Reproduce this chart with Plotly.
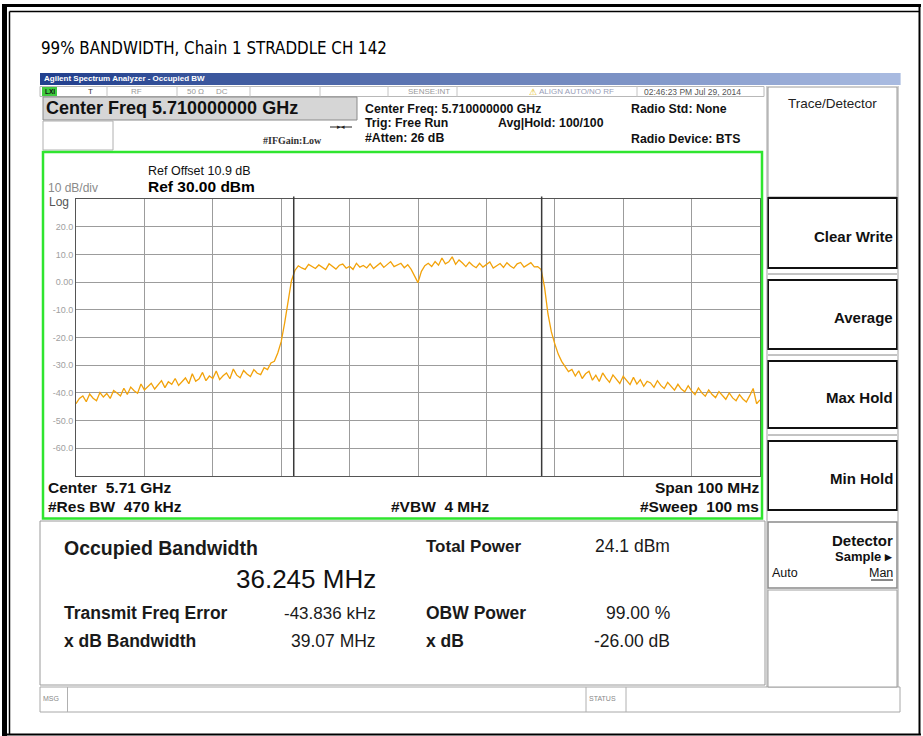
import numpy as np
import plotly.graph_objects as go

W, H = 923, 736

# ---- measurement data -------------------------------------------------------
center_ghz = 5.71
span_mhz = 100.0
ref_level_dbm = 30.0
db_per_div = 10.0
obw_mhz = 36.245
freq_error_khz = -43.836

# sweep points, 0.5 MHz apart across the 100 MHz span
freq_offset_mhz = np.linspace(-span_mhz / 2, span_mhz / 2, 201)

level_lower_dbm = [
    -43.9, -42.0, -41.1, -43.2, -40.4, -41.9, -42.8, -39.9, -41.5, -40.2,
    -42.0, -39.1, -40.0, -41.1, -38.3, -40.6, -37.9, -39.2, -40.1, -36.8,
    -38.9, -37.7, -36.5, -38.6, -37.2, -35.6, -38.1, -36.0, -36.9, -34.8,
    -37.3, -35.9, -34.6, -36.7, -33.1, -35.8, -34.9, -32.6, -35.6, -33.9,
    -34.8, -32.1, -35.2, -33.8, -32.8, -34.9, -31.4, -33.6, -34.5, -31.9,
    -33.2, -34.1, -31.6, -32.9, -33.4, -30.9, -31.6, -29.2, -28.6, -25.6,
    -21.5, -14.8, -6.2, 0.5, 4.2,
]
level_inband_dbm = [
    5.9, 5.1, 4.6, 6.4, 5.6, 4.9, 6.2, 5.3, 4.5, 6.6,
    5.8, 4.7, 6.1, 6.5, 5.0, 5.7, 4.6, 6.8, 5.4, 6.0,
    5.1, 6.6, 4.9, 5.8, 6.9, 5.3, 6.2, 7.4, 5.6, 6.1,
    6.8, 5.2, 6.3, 4.6, 2.2, -0.2, 3.9, 5.9, 6.8, 5.6,
    7.4, 6.1, 8.7, 6.6, 7.3, 9.1, 6.4, 8.0, 6.9, 5.6,
    7.2, 6.0, 5.2, 6.8, 5.4, 6.3, 7.3, 5.1, 6.0, 6.7,
    5.3, 7.0, 5.8, 5.0, 6.6, 7.1, 5.4, 6.2, 7.0, 5.5,
    5.6,
]
level_upper_dbm = [
    4.5, -1.8, -11.5, -18.0, -22.3, -26.0, -28.6, -30.4, -32.3, -31.5,
    -33.9, -32.0, -34.8, -33.1, -32.2, -35.4, -33.6, -35.9, -32.8, -34.7,
    -36.2, -33.5, -35.1, -36.6, -34.0, -35.5, -37.0, -34.4, -36.8, -35.2,
    -37.6, -35.8, -36.4, -38.0, -35.6, -37.3, -38.4, -36.2, -37.5, -39.0,
    -36.9, -38.6, -39.6, -37.4, -39.3, -40.6, -38.2, -40.0, -41.2, -38.9,
    -40.6, -41.7, -39.5, -41.1, -42.3, -40.0, -41.8, -42.8, -40.6, -42.2,
    -43.3, -41.0, -38.4, -43.9, -42.5,
]
trace_dbm = level_lower_dbm + level_inband_dbm + level_upper_dbm

y_tick_vals = [20, 10, 0, -10, -20, -30, -40, -50, -60]
y_tick_text = ["20.0", "10.0", "0.00", "-10.0", "-20.0", "-30.0", "-40.0", "-50.0", "-60.0"]

freq_ghz = center_ghz + freq_offset_mhz / 1000.0
x_lo = center_ghz - span_mhz / 2000.0
x_hi = center_ghz + span_mhz / 2000.0
x_grid = [center_ghz + (k - 5) * span_mhz / 10000.0 for k in range(1, 10)]
obw_center = center_ghz + freq_error_khz / 1e6
obw_edges = [obw_center - obw_mhz / 2000.0, obw_center + obw_mhz / 2000.0]

# ---- helpers (pixel coordinates -> paper coordinates) ----------------------
SANS = "Liberation Sans, Arial, sans-serif"
NARROW = "Liberation Sans Narrow, DejaVu Sans Condensed, Arial Narrow, sans-serif"
shapes, notes = [], []


def px(x):
    return x / W


def py(y):
    return 1 - y / H


def rect(x0, y0, x1, y1, line=None, width=1.0, fill=None, layer="below"):
    shapes.append(dict(
        type="rect", xref="paper", yref="paper",
        x0=px(x0), x1=px(x1), y0=py(y1), y1=py(y0),
        line=dict(color=line if line else "rgba(0,0,0,0)", width=width if line else 0),
        fillcolor=fill if fill else "rgba(0,0,0,0)", layer=layer))


def seg(x0, y0, x1, y1, color="#999", width=1.0, layer="above"):
    shapes.append(dict(
        type="line", xref="paper", yref="paper",
        x0=px(x0), x1=px(x1), y0=py(y0), y1=py(y1),
        line=dict(color=color, width=width), layer=layer))


def text(x, y, s, size, color="#111", bold=False, anchor="left", family=SANS):
    notes.append(dict(
        x=px(x), y=py(y), xref="paper", yref="paper", showarrow=False,
        text=f"<b>{s}</b>" if bold else s, xanchor=anchor, yanchor="middle",
        borderpad=0, font=dict(size=size, color=color, family=family)))


# ---- page frame -------------------------------------------------------------
rect(2, 4, 7, 736, fill="#000")
rect(2, 4, 921, 7, fill="#000")
seg(9.5, 11.5, 919, 11.5, color="#000", width=1.5)
seg(9.5, 11.5, 9.5, 734, color="#000", width=1.5)
seg(919.5, 4, 919.5, 735, color="#000", width=2)
seg(2, 734.5, 921, 734.5, color="#000", width=2)

text(40, 48, "99% BANDWIDTH, Chain 1 STRADDLE CH 142", 16.8, color="#000", family=NARROW)

# ---- analyzer window title bar (gradient) ----------------------------------
c0 = np.array([0x22, 0x40, 0x8e])
c1 = np.array([0xa8, 0xba, 0xe0])
n_strips = 43
for i in range(n_strips):
    t = i / (n_strips - 1)
    c = (c0 + (c1 - c0) * t).astype(int)
    xa = 40 + (900 - 40) * i / n_strips
    xb = 40 + (900 - 40) * (i + 1) / n_strips + 0.6
    rect(xa, 73, xb, 85, fill=f"rgb({c[0]},{c[1]},{c[2]})")
text(43, 78.5, "Agilent Spectrum Analyzer - Occupied BW", 8, color="#fff", bold=True)

# ---- status row --------------------------------------------------------------
rect(40, 86.5, 764, 96.5, line="#b8b8b8", width=1, fill="#fff")
rect(42, 87, 57, 96, fill="#3fcb3f")
text(49.5, 91.5, "LXI", 6.5, color="#111", bold=True, anchor="center")
for sx in [107, 177, 250, 320, 388, 457, 637]:
    seg(sx, 86.5, sx, 96.5, color="#c4c4c4", width=1)
text(90, 91.5, "T", 8, color="#333", anchor="center")
text(136, 91.5, "RF", 8, color="#999", anchor="center")
text(195, 91.5, "50 Ω", 8, color="#999", anchor="center")
text(222, 91.5, "DC", 8, color="#999", anchor="center")
text(429, 91.5, "SENSE:INT", 8, color="#999", anchor="center")
text(528, 91.5, "⚠", 9, color="#e0b400")
text(538, 91.5, "ALIGN AUTO/NO RF", 8, color="#9aa0b8")
text(643, 91.5, "02:46:23 PM Jul 29, 2014", 8.5, color="#555")

# ---- settings header ------------------------------------------------------------
rect(43, 97, 357, 120, line="#8a8a8a", width=1, fill="#d6d6d6")
text(45, 107.5, "Center Freq 5.710000000 GHz", 18, color="#111", bold=True)
rect(43, 121, 113, 150, line="#b0b0b0", width=1, fill="#fff")
text(262, 140, "#IFGain:Low", 10, color="#333", bold=True, family="Liberation Serif, serif")
seg(330, 127, 352, 127, color="#222", width=1)
text(341, 127, "▸◂", 7, color="#222", anchor="center")

text(364, 109.5, "Center Freq: 5.710000000 GHz", 12.3, bold=True)
text(364, 123, "Trig: Free Run", 12.3, bold=True)
text(497, 123, "Avg|Hold: 100/100", 12.3, bold=True)
text(364, 138, "#Atten: 26 dB", 12.3, bold=True)
text(630, 109.5, "Radio Std: None", 12.3, bold=True)
text(630, 139, "Radio Device: BTS", 12.3, bold=True)

# ---- spectrum window ----------------------------------------------------------
rect(43, 152, 762, 518.5, line="#2fe52f", width=2.5, layer="above")
text(147, 171.5, "Ref Offset 10.9 dB", 12.5, color="#111")
text(147, 186.5, "Ref 30.00 dBm", 15.5, color="#000", bold=True)
text(47, 188, "10 dB/div", 12, color="#8a8a8a")
text(48, 201.5, "Log", 12, color="#555")

text(47, 488, "Center  5.71 GHz", 15.5, color="#111", bold=True)
text(47, 506.5, "#Res BW  470 kHz", 15.5, color="#111", bold=True)
text(390, 506.5, "#VBW  4 MHz", 15.5, color="#111", bold=True)
text(760, 488, "Span 100 MHz", 15.5, color="#111", bold=True, anchor="right")
text(760, 506.5, "#Sweep  100 ms", 15.5, color="#111", bold=True, anchor="right")

# OBW edge markers
for xe in obw_edges:
    shapes.append(dict(type="line", xref="x", yref="paper", x0=xe, x1=xe,
                       y0=py(476), y1=py(196.5), line=dict(color="#3a3a3a", width=1.5),
                       layer="above"))

# ---- result panel -------------------------------------------------------------
rect(40, 521, 765, 685, line="#9a9a9a", width=1, fill="#fff")
text(63, 548, "Occupied Bandwidth", 19.5, color="#1a1a1a", bold=True)
text(377, 579, "36.245 MHz", 26, color="#111", anchor="right")
text(425, 546, "Total Power", 17, color="#1a1a1a", bold=True)
text(671, 546, "24.1 dBm", 17.5, color="#1a1a1a", anchor="right")
text(63, 613, "Transmit Freq Error", 17.5, color="#1a1a1a", bold=True)
text(377, 613, "-43.836 kHz", 17, color="#1a1a1a", anchor="right")
text(425, 613, "OBW Power", 17.5, color="#1a1a1a", bold=True)
text(671, 613, "99.00 %", 17.5, color="#1a1a1a", anchor="right")
text(63, 641, "x dB Bandwidth", 17.5, color="#1a1a1a", bold=True)
text(377, 641, "39.07 MHz", 17.5, color="#1a1a1a", anchor="right")
text(425, 641, "x dB", 17.5, color="#1a1a1a", bold=True)
text(671, 641, "-26.00 dB", 17.5, color="#1a1a1a", anchor="right")

# ---- message bar ----------------------------------------------------------------
rect(40, 687, 900, 712, line="#a8a8a8", width=1, fill="#fff")
seg(67.5, 687, 67.5, 712, color="#b0b0b0")
seg(586, 687, 586, 712, color="#b0b0b0")
seg(626, 687, 626, 712, color="#b0b0b0")
text(42, 698, "MSG", 7, color="#888")
text(588, 698, "STATUS", 7, color="#888")

# ---- soft-key panel -------------------------------------------------------------
seg(767, 86, 767, 687, color="#a0a0a0", width=1)
seg(898, 86, 898, 687, color="#a0a0a0", width=1)
rect(768, 87, 897, 197, line="#9a9a9a", width=1, fill="#fff")
text(832.5, 103, "Trace/Detector", 13.5, color="#222", anchor="center")
for (ya, yb, label) in [(198, 268, "Clear Write"), (280, 349, "Average"),
                        (361, 428, "Max Hold"), (441, 510, "Min Hold")]:
    rect(768, ya, 897, yb, line="#111", width=2, fill="#fff")
    text(893.5, (ya + yb) / 2 + 3, label, 15, color="#111", bold=True, anchor="right")
for yl in [274, 355, 435]:
    seg(768, yl, 897, yl, color="#888", width=1)
rect(768, 522, 897, 588, line="#8a8a8a", width=1.5, fill="#fff")
text(893.5, 540, "Detector", 15, color="#111", bold=True, anchor="right")
text(893.5, 556.5, "Sample ▸", 13, color="#111", bold=True, anchor="right")
text(771, 573, "Auto", 12.5, color="#111")
text(893.5, 573, "Man", 12.5, color="#111", anchor="right")
seg(871, 580, 893, 580, color="#111", width=1)
rect(768, 590, 897, 687, line="#a0a0a0", width=1, fill="#fff")

# ---- trace --------------------------------------------------------------------
fig = go.Figure()
fig.add_trace(go.Scatter(
    x=freq_ghz, y=trace_dbm, mode="lines",
    line=dict(color="#f2a20a", width=1.3), hoverinfo="skip"))

fig.update_layout(
    width=W, height=H, autosize=False,
    margin=dict(l=0, r=0, t=0, b=0, pad=0),
    paper_bgcolor="#fff", plot_bgcolor="#fff",
    showlegend=False,
    shapes=shapes, annotations=notes,
    xaxis=dict(domain=[px(76), px(760)], range=[x_lo, x_hi],
               tickvals=x_grid, showticklabels=False, ticks="",
               showgrid=True, gridcolor="#9c9c9c", gridwidth=1, zeroline=False,
               showline=True, mirror=True, linecolor="#555", linewidth=1),
    yaxis=dict(domain=[py(476), py(199)],
               range=[ref_level_dbm - 10 * db_per_div, ref_level_dbm],
               tickvals=y_tick_vals, ticktext=y_tick_text, ticks="",
               tickfont=dict(size=9, color="#a0a0a0", family=SANS),
               showgrid=True, gridcolor="#9c9c9c", gridwidth=1, zeroline=False,
               showline=True, mirror=True, linecolor="#555", linewidth=1),
)

fig.write_html("out.html")
